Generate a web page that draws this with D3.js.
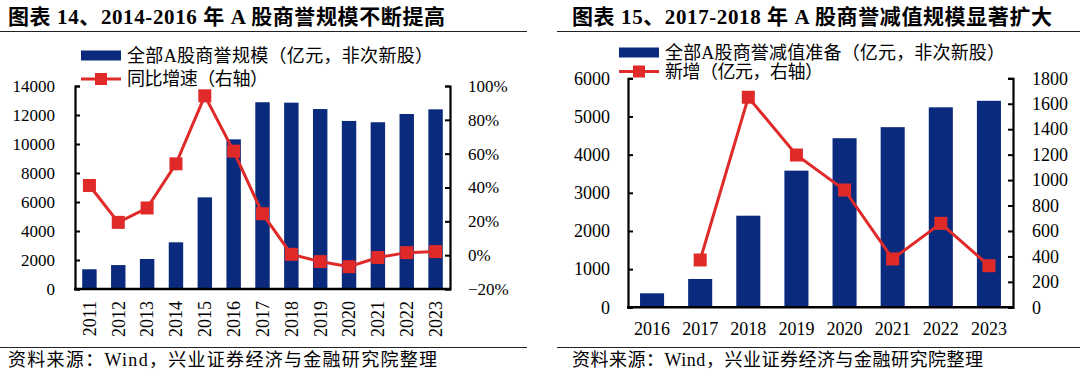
<!DOCTYPE html>
<html><head><meta charset="utf-8">
<script src="https://cdn.jsdelivr.net/npm/d3@7"></script>
<style>
html,body{margin:0;padding:0;background:#fff;}
svg text{font-family:"Liberation Serif","Times New Roman","Noto Sans CJK SC",serif;fill:#000;}
</style></head>
<body>
<svg id="c" width="1080" height="376"></svg>
<script>
// ---- Data: chart 1 ----
const years1 = ["2011","2012","2013","2014","2015","2016","2017","2018","2019","2020","2021","2022","2023"];
const goodwill1 = [1360,1650,2070,3220,6320,10320,12880,12850,12410,11590,11500,12070,12390];
const growth1 = [0.412,0.194,0.279,0.54,0.942,0.615,0.245,0.005,-0.038,-0.068,-0.014,0.015,0.021];
const leftTicks1 = [0,2000,4000,6000,8000,10000,12000,14000];
const rightTicks1 = [-0.2,0,0.2,0.4,0.6,0.8,1.0];
const title1 = "图表 14、2014-2016 年 A 股商誉规模不断提高";
const legend1 = ["全部A股商誉规模（亿元，非次新股）","同比增速（右轴）"];
// ---- Data: chart 2 ----
const years2 = ["2016","2017","2018","2019","2020","2021","2022","2023"];
const impair2 = [367,742,2400,3580,4430,4720,5240,5410];
const newAdd2 = [null,372,1651,1197,922,380,660,327];
const leftTicks2 = [0,1000,2000,3000,4000,5000,6000];
const rightTicks2 = [0,200,400,600,800,1000,1200,1400,1600,1800];
const title2 = "图表 15、2017-2018 年 A 股商誉减值规模显著扩大";
const legend2 = ["全部A股商誉减值准备（亿元，非次新股）","新增（亿元，右轴）"];
const source = "资料来源：Wind，兴业证券经济与金融研究院整理";

const BLUE = "#0a2a7e", RED = "#e02a2a";
const svg = d3.select("#c");

function fitText(sel, w) {
  return sel.attr("textLength", w).attr("lengthAdjust", "spacing");
}

function frame(x0, x1, titleX, title, titleW, srcW) {
  fitText(svg.append("text").attr("x", titleX).attr("y", 24).attr("font-size", 21).attr("font-weight", "bold").text(title), titleW);
  svg.append("line").attr("x1", x0).attr("x2", x1).attr("y1", 31.5).attr("y2", 31.5).attr("stroke", "#222").attr("stroke-width", 1);
  svg.append("line").attr("x1", x0).attr("x2", x1).attr("y1", 347.5).attr("y2", 347.5).attr("stroke", "#222").attr("stroke-width", 1);
  fitText(svg.append("text").attr("x", titleX).attr("y", 366).attr("font-size", 18).text(source), srcW);
}

function styleAxis(g, fs) {
  g.select(".domain").attr("stroke", "#000").attr("stroke-width", 2.2);
  g.selectAll(".tick line").attr("stroke", "#000").attr("stroke-width", 2);
  g.selectAll(".tick text").attr("font-size", fs).attr("fill", "#000")
    .style("font-family", '"Liberation Serif","Times New Roman",serif');
}

function legend(lx, y1, y2, textX, labels, w1, w2) {
  svg.append("rect").attr("x", lx).attr("y", y1 - 5).attr("width", 40).attr("height", 10).attr("fill", BLUE);
  fitText(svg.append("text").attr("x", textX).attr("y", y1).attr("dy", "0.35em").attr("font-size", 18).text(labels[0]), w1);
  svg.append("line").attr("x1", lx).attr("x2", lx + 40).attr("y1", y2).attr("y2", y2).attr("stroke", RED).attr("stroke-width", 3);
  svg.append("rect").attr("x", lx + 20 - 6).attr("y", y2 - 6).attr("width", 12).attr("height", 12).attr("fill", RED);
  fitText(svg.append("text").attr("x", textX).attr("y", y2).attr("dy", "0.35em").attr("font-size", 18).text(labels[1]), w2);
}

function chart(o) {
  const x = d3.scaleBand().domain(o.cats).range([o.xl, o.xr]).paddingInner(0.5).paddingOuter(0.25);
  const yL = d3.scaleLinear().domain(o.lDom).range([o.yb, o.yt]);
  const yR = d3.scaleLinear().domain(o.rDom).range([o.yb, o.yt]);

  svg.append("g").selectAll("rect").data(o.bars).join("rect")
    .attr("x", (d, i) => x(o.cats[i])).attr("width", x.bandwidth())
    .attr("y", d => yL(d)).attr("height", d => yL(0) - yL(d)).attr("fill", BLUE);

  const gl = svg.append("g").attr("transform", `translate(${o.xl},0)`)
    .call(d3.axisLeft(yL).tickValues(o.lTicks).tickSizeInner(-5).tickSizeOuter(-5).tickPadding(o.lPad).tickFormat(d3.format("d")));
  styleAxis(gl, o.tfs);
  const gr = svg.append("g").attr("transform", `translate(${o.xr},0)`)
    .call(d3.axisRight(yR).tickValues(o.rTicks).tickSizeInner(-5).tickSizeOuter(-5).tickPadding(o.rPad).tickFormat(o.rFmt));
  styleAxis(gr, o.tfs);
  svg.append("line").attr("x1", o.xl - 1).attr("x2", o.xr + 1).attr("y1", o.yb).attr("y2", o.yb)
    .attr("stroke", "#000").attr("stroke-width", 2.6);

  const xl = svg.append("g");
  o.cats.forEach(c => {
    const cx = x(c) + x.bandwidth() / 2;
    if (o.rotate) {
      xl.append("text").attr("transform", `translate(${cx},${o.yb + 12}) rotate(-90)`)
        .attr("text-anchor", "end").attr("dy", "0.35em").attr("font-size", o.xfs).text(c);
    } else {
      xl.append("text").attr("x", cx).attr("y", o.yb + 21).attr("text-anchor", "middle")
        .attr("dy", "0.35em").attr("font-size", o.xfs).text(c);
    }
  });

  const pts = o.line.map((v, i) => ({c: o.cats[i], v})).filter(d => d.v !== null);
  const line = d3.line().x(d => x(d.c) + x.bandwidth() / 2).y(d => yR(d.v));
  svg.append("path").datum(pts).attr("d", line).attr("fill", "none").attr("stroke", RED).attr("stroke-width", 3);
  svg.append("g").selectAll("rect").data(pts).join("rect")
    .attr("x", d => x(d.c) + x.bandwidth() / 2 - 6.5).attr("y", d => yR(d.v) - 6.5)
    .attr("width", 13).attr("height", 13).attr("fill", RED);
}

frame(0, 527, 8, title1, 437, 429);
frame(557, 1080, 572, title2, 480, 411);

chart({cats: years1, bars: goodwill1, line: growth1, xl: 75, xr: 450, yb: 289, yt: 86,
  lDom: [0, 14000], rDom: [-0.2, 1.0], lTicks: leftTicks1, rTicks: rightTicks1,
  lPad: 20, rPad: 18, rFmt: d3.format(".0%"), tfs: 17, xfs: 18, rotate: true});
chart({cats: years2, bars: impair2, line: newAdd2, xl: 628, xr: 1013, yb: 307.3, yt: 78.3,
  lDom: [0, 6000], rDom: [0, 1800], lTicks: leftTicks2, rTicks: rightTicks2,
  lPad: 18, rPad: 19, rFmt: d3.format("d"), tfs: 18, xfs: 18, rotate: false});

legend(81, 55.5, 79, 127, legend1, 306, 141);
legend(619, 52.5, 71.5, 665, legend2, 340, 158);
</script>
</body></html>
